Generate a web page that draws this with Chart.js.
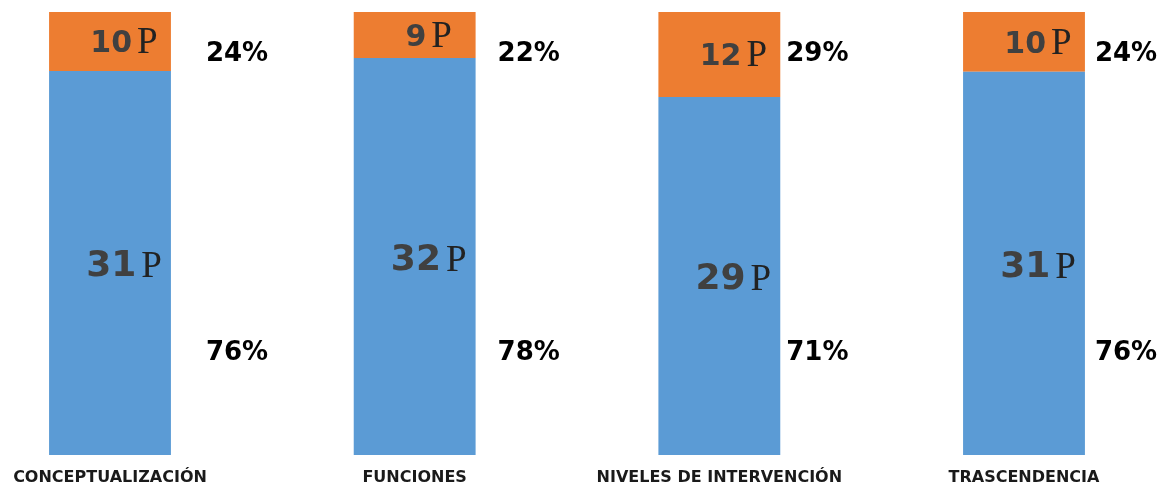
<!DOCTYPE html>
<html>
<head>
<meta charset="utf-8">
<script src="https://cdn.jsdelivr.net/npm/chart.js@4.4.0/dist/chart.umd.min.js"></script>
<style>
  html, body { margin: 0; padding: 0; background: #fff; }
  #wrap { width: 1168px; height: 487px; position: relative; }
</style>
</head>
<body>
<div id="wrap"><canvas id="chart"></canvas></div>
<script>
// ---- Data ----------------------------------------------------------
const categories = ["CONCEPTUALIZACIÓN", "FUNCIONES", "NIVELES DE INTERVENCIÓN", "TRASCENDENCIA"];

// segment heights as drawn in the picture (share of the bar, %)
const blueHeights   = [86.7, 89.6, 80.8, 86.5];
const orangeHeights = [13.3, 10.4, 19.2, 13.5];

// texts written on / beside the bars
const blueCounts   = [31, 32, 29, 31];
const orangeCounts = [10, 9, 12, 10];
const bluePct      = ["76%", "78%", "71%", "76%"];
const orangePct    = ["24%", "22%", "29%", "24%"];

// ---- Styling -------------------------------------------------------
const BLUE   = "#5b9bd5";
const ORANGE = "#ed7d31";
const SANS   = "'DejaVu Sans', sans-serif";
const SERIF  = "'Liberation Serif', serif";

// horizontal gap between bar edge and percent text, per bar
const PCT_GAP = [35, 22, 6, 10];

function drawCount(ctx, n, cx, cy, size) {
  const num = String(n);
  const numFont = `bold ${size}px ${SANS}`;
  const pFont = `37px ${SERIF}`;
  ctx.font = numFont;
  const wNum = ctx.measureText(num).width;
  ctx.font = pFont;
  const wP = ctx.measureText("P").width;
  const gap = 5;
  const x0 = cx - (wNum + gap + wP) / 2;
  const base = cy + size * 0.729 / 2;
  ctx.textAlign = "left";
  ctx.textBaseline = "alphabetic";
  ctx.font = numFont;
  ctx.fillStyle = "#404040";
  ctx.fillText(num, x0, base);
  ctx.font = pFont;
  ctx.fillStyle = "#222222";
  ctx.fillText("P", x0 + wNum + gap, base + 1);
}

const barLabels = {
  id: "barLabels",
  afterDatasetsDraw(chart) {
    const { ctx, scales: { y } } = chart;
    const metaB = chart.getDatasetMeta(0);
    const metaO = chart.getDatasetMeta(1);
    ctx.save();
    categories.forEach((_, i) => {
      const bb = metaB.data[i];
      const bo = metaO.data[i];
      const cx = bb.x + 14;
      drawCount(ctx, blueCounts[i], cx, (bb.y + bb.base) / 2, 36);
      drawCount(ctx, orangeCounts[i], cx, (bo.y + bo.base) / 2, 30);

      // percent texts to the right of the bar
      const px = bb.x + bb.width / 2 + PCT_GAP[i];
      const capHalf = 26 * 0.729 / 2;
      ctx.font = `bold 26px ${SANS}`;
      ctx.fillStyle = "#000";
      ctx.textAlign = "left";
      ctx.textBaseline = "alphabetic";
      ctx.fillText(orangePct[i], px, y.getPixelForValue(91) + capHalf);
      ctx.fillText(bluePct[i], px, y.getPixelForValue(23.5) + capHalf);
    });
    ctx.restore();
  },
};

new Chart(document.getElementById("chart"), {
  type: "bar",
  data: {
    labels: categories,
    datasets: [
      { data: blueHeights,   backgroundColor: BLUE,   borderWidth: 0, clip: false },
      { data: orangeHeights, backgroundColor: ORANGE, borderWidth: 0, clip: false },
    ],
  },
  options: {
    responsive: true,
    maintainAspectRatio: false,
    animation: false,
    events: [],
    layout: { padding: { left: 110, right: 144, top: 12, bottom: 0 } },
    datasets: { bar: { categoryPercentage: 1, barPercentage: 0.4 } },
    plugins: { legend: { display: false }, tooltip: { enabled: false } },
    scales: {
      x: {
        stacked: true,
        offset: false,
        grid: { display: false, drawTicks: false },
        border: { display: false },
        ticks: {
          color: "#1a1a1a",
          font: { family: SANS, size: 16, weight: "bold" },
          padding: 13,
          maxRotation: 0,
          autoSkip: false,
        },
        afterFit(scale) { scale.height = 32; },
      },
      y: {
        stacked: true,
        display: false,
        min: 0,
        max: 100,
      },
    },
  },
  plugins: [barLabels],
});
</script>
</body>
</html>
